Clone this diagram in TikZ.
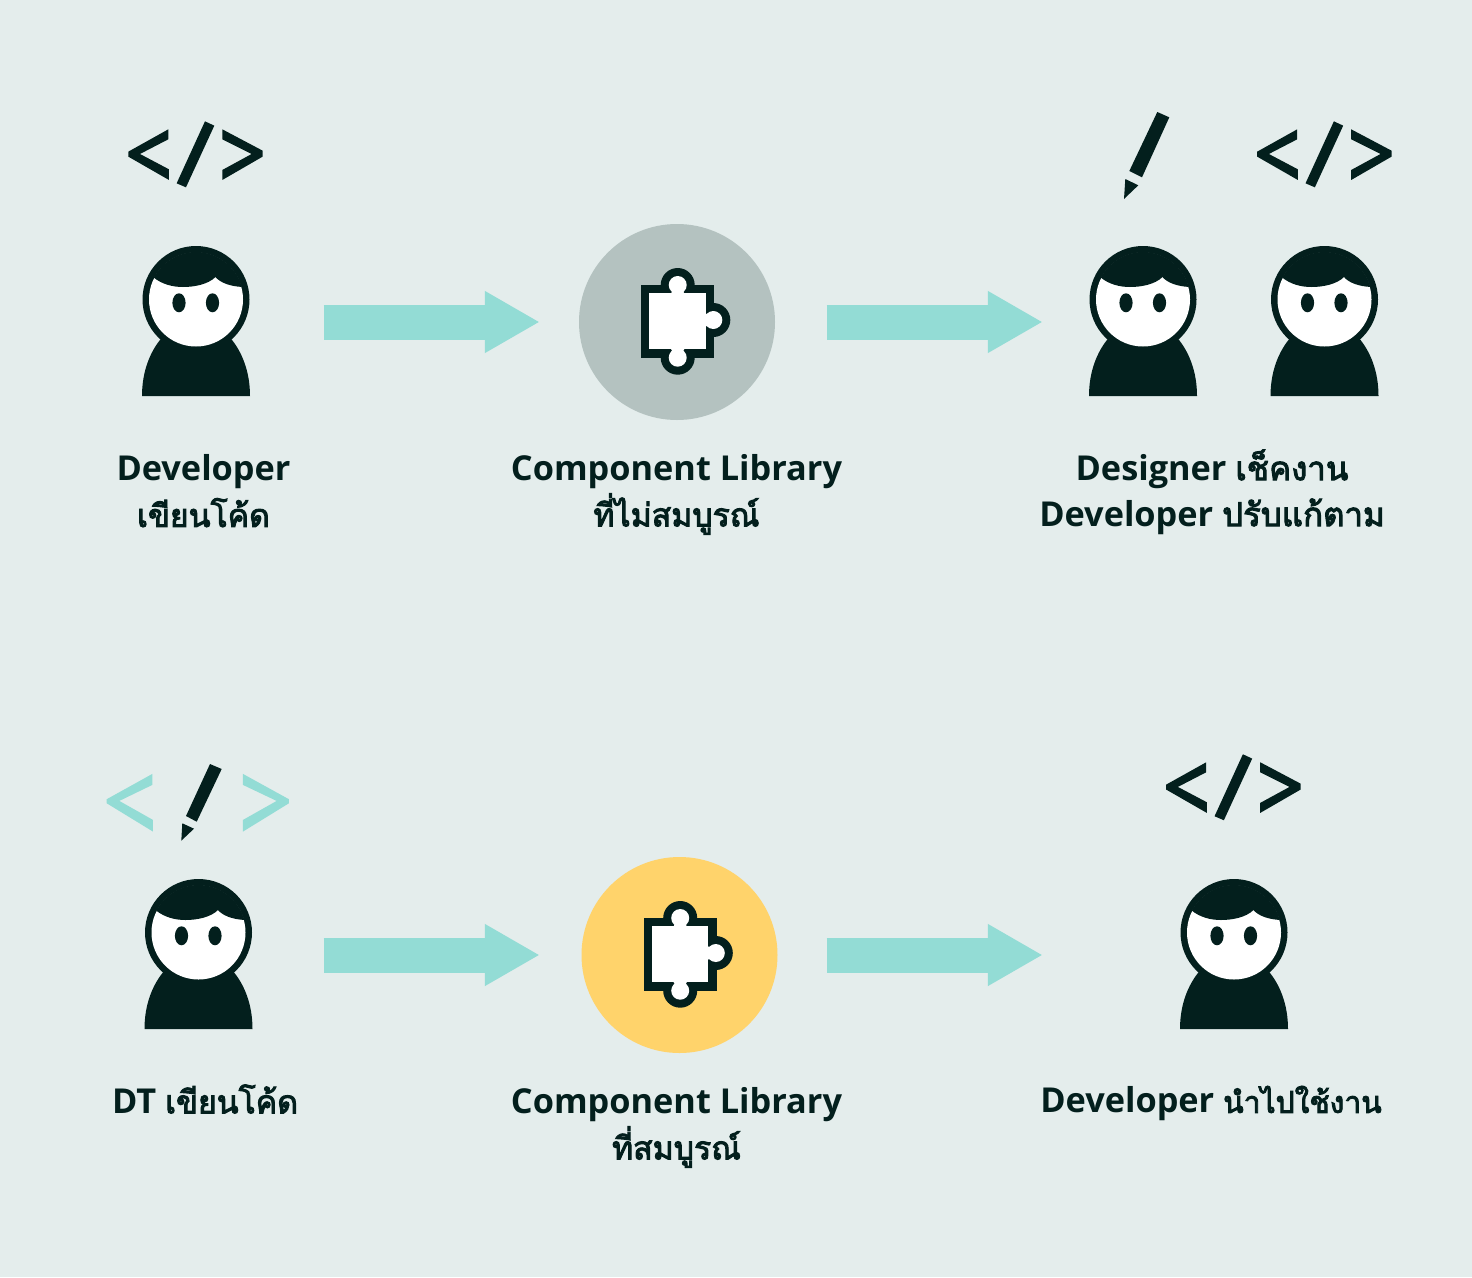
\documentclass[tikz,border=0pt]{standalone}
\usepackage{fontspec}
\setmainfont{Open Sans}
\newfontfamily\thaifnt[Script=Thai,FakeBold=3]{Loma}
\newcommand{\thtxt}[2][32]{{\thaifnt\mdseries\fontsize{#1}{46}\selectfont #2}}
\usetikzlibrary{arrows.meta}
\definecolor{bgc}{HTML}{E4EDEC}
\definecolor{ink}{HTML}{031F1D}
\definecolor{tealc}{HTML}{93DCD5}
\definecolor{libgrey}{HTML}{B4C2C0}
\definecolor{libgold}{HTML}{FFD36B}
\tikzset{
  personbox/.style={draw=none,inner sep=0pt,minimum width=108pt,minimum height=150pt},
  libnode/.style={circle,draw=none,inner sep=0pt,minimum size=196pt},
  flow/.style={draw=tealc,line width=35pt,-{Triangle[length=55pt,width=58pt,fill=tealc]}},
  lab/.style={align=center,text=ink,font=\bfseries\fontsize{34.3}{46}\selectfont,inner sep=0pt},
  pics/person/.style={code={
    \fill[ink] (-54,96.5) .. controls (-54,72) and (-46,52) .. (-34,38) -- (34,38) .. controls (46,52) and (54,72) .. (54,96.5) -- cycle;
    \fill[ink] (0,0) circle[radius=53.5];
    \fill[white] (0,0) circle[radius=47];
    \begin{scope}
      \clip (0,0) circle[radius=47.5];
      \fill[ink] (-60,-60) -- (-60,-34) -- (-43,-22.5) .. controls (-34,-15) and (-23,-12.5) .. (-13,-12.5)
        .. controls (-2,-12.5) and (12,-15) .. (19.5,-22.5) .. controls (24,-17) and (34,-13) .. (47,-12.5) -- (60,-12.5) -- (60,-60) -- cycle;
    \end{scope}
    \fill[ink] (-17,3.3) ellipse[x radius=6.6,y radius=9.5];
    \fill[ink] (16.5,3.3) ellipse[x radius=6.6,y radius=9.5];
  }},
  pics/codeicon/.style={code={
    \fill (205,88) -- (85,155) -- (85,170) -- (207,240) -- (207,208) -- (120,162) -- (205,118) -- cycle;
    \fill (367,88) -- (488,152) -- (488,170) -- (367,240) -- (367,210) -- (455,162) -- (367,118) -- cycle;
    \fill (315,64) -- (343,77) -- (258,262) -- (230,250) -- cycle;
  }},
  pics/puzzle/.style={code={
    \fill[ink] (-36,-37) rectangle (37.3,36.3);
    \fill[ink] (0.7,-37) circle[radius=17];
    \fill[ink] (0.7,35.7) circle[radius=17];
    \fill[ink] (36.3,-2) circle[radius=17];
    \fill[white] (-27.7,-28.7) rectangle (28.7,27.3);
    \fill[white] (0.7,-37) circle[radius=9];
    \fill[white] (0.7,35.7) circle[radius=9];
    \fill[white] (36.3,-2) circle[radius=9];
    \fill[white] (-6,-28.5) -- (-4,-32) -- (5.4,-32) -- (7.4,-28.5) -- cycle;
    \fill[white] (-6,27) -- (-4,30.5) -- (5.4,30.5) -- (7.4,27) -- cycle;
    \fill[white] (28.5,-8.7) -- (31.5,-6.7) -- (31.5,2.7) -- (28.5,4.7) -- cycle;
  }}
}
\begin{document}
\begin{tikzpicture}[x=1pt,y=-1pt]
\useasboundingbox (0,0) rectangle (1472,1277);
\fill[bgc] (0,0) rectangle (1472,1277);

\node[libnode,fill=libgrey] (lib1) at (677,322) {};
\node[libnode,fill=libgold] (lib2) at (679.5,955) {};
\node[personbox] (p1) at (196,321) {};
\node[personbox] (p2) at (1143,321) {};
\node[personbox] (p3) at (1325,321) {};
\node[personbox] (p4) at (198.5,954) {};
\node[personbox] (p5) at (1234,954) {};

\pic at (196,299.5) {person};
\pic at (1143,299.5) {person};
\pic at (1324.5,299.5) {person};
\pic at (198.5,932.5) {person};
\pic at (1234,932.5) {person};
\pic at (677,322) {puzzle};
\pic at (679.5,955) {puzzle};

\begin{scope}[x=0.3333pt,y=-0.3333pt,fill=ink]
  \pic at (300,300) {codeicon};
  \pic at (3687,300) {codeicon};
  \pic at (3414,2199) {codeicon};
  \begin{scope}[shift={(270,2250)},fill=tealc]
    \fill (187,72) -- (50,148) -- (50,160) -- (189,245) -- (189,210) -- (88,153) -- (187,105) -- cycle;
    \fill (459,72) -- (597,148) -- (597,160) -- (459,245) -- (459,210) -- (560,153) -- (459,105) -- cycle;
  \end{scope}
\end{scope}
% pens
\fill[ink] (210,764) -- (221.7,769) -- (196.7,821.7) -- (186,816) -- cycle;
\fill[ink] (182.3,823.3) -- (194,828.7) -- (181.3,840.7) -- cycle;
\fill[ink] (1157.3,112) -- (1169.3,117.3) -- (1142,177.3) -- (1129.3,171) -- cycle;
\fill[ink] (1125.3,179) -- (1138.3,185.3) -- (1124,199) -- cycle;

% arrows
\draw[flow,shorten <=73.5pt,shorten >=39pt] (p1.east |- lib1) -- (lib1.west);
\draw[flow,shorten <=51.5pt,shorten >=46pt] (lib1.east) -- (p2.west |- lib1);
\draw[flow,shorten <=71pt,shorten >=41.5pt] (p4.east |- lib2) -- (lib2.west);
\draw[flow,shorten <=49pt,shorten >=137pt] (lib2.east) -- (p5.west |- lib2);

% labels
\node[lab] (t1) at (203.5,491) {Developer\\\thtxt{เขียนโค้ด}};
\node[lab] (t2) at (676.5,494.5) {Component Library\\\thtxt{ที่ไม่สมบูรณ์}};
\node[lab] (t3) at (1212,492) {Designer \thtxt[33]{เช็คงาน}\\Developer \thtxt[33]{ปรับแก้ตาม}};
\node[lab] (t4) at (205,1099) {DT \thtxt{เขียนโค้ด}};
\node[lab] (t5) at (676.5,1127.5) {Component Library\\\thtxt{ที่สมบูรณ์}};
\node[lab] (t6) at (1211,1103.5) {Developer \thtxt[30]{นำไปใช้งาน}};
\end{tikzpicture}
\end{document}
